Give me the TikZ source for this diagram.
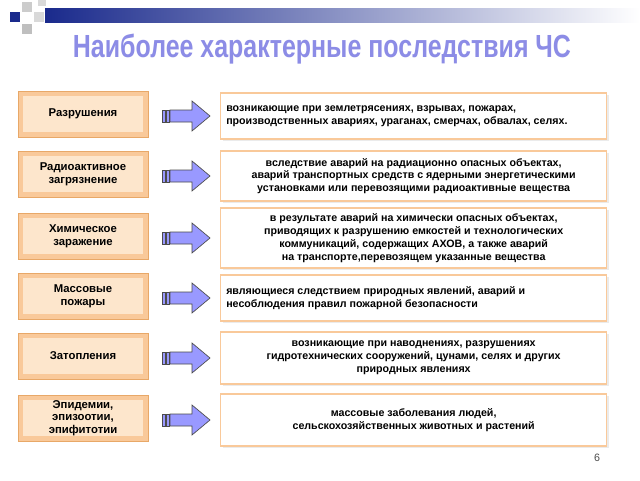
\documentclass[tikz,border=0pt]{standalone}
\usepackage{fontspec}
\setmainfont{Liberation Sans}
\usetikzlibrary{positioning, shadows}
\definecolor{peach}{HTML}{F9C99A}
\definecolor{peachlight}{HTML}{FDE6CC}
\definecolor{peachdark}{HTML}{E8A868}
\definecolor{arrowblue}{HTML}{9999FF}
\definecolor{titleblue}{HTML}{8C8CE6}
\definecolor{barblue}{HTML}{1A2A8C}

\begin{document}
\begin{tikzpicture}[x=0.75pt,y=-0.75pt]
    \tikzstyle{cause}=[draw=peachdark, fill=peach, minimum width=130*0.75pt, minimum height=46*0.75pt,
        inner sep=0pt, align=center, font=\fontsize{8.5}{9.5}\selectfont\bfseries]
    \tikzstyle{effect}=[draw=peach, line width=1pt, fill=white, anchor=west, inner sep=0pt,
        drop shadow={shadow xshift=1.5pt, shadow yshift=-1.5pt, fill=black!15}]
    \tikzstyle{effect text}=[font=\fontsize{8}{9.6}\selectfont\bfseries, inner sep=0pt]
    \tikzstyle{flow}=[draw=black!70, fill=arrowblue, line width=0.5pt]

    \useasboundingbox (0,0) rectangle (640,480);
    \fill[white] (0,0) rectangle (640,480);

    % top bar and squares
    \shade[left color=barblue, right color=white] (45,8) rectangle (640,22);
    \fill[barblue] (10,12) rectangle (20,22);
    \fill[black!20] (22,2) rectangle (32,12);
    \fill[black!15] (34,12) rectangle (44,22);
    \fill[black!25] (22,24) rectangle (32,34);
    \fill[black!15] (38,0) rectangle (46,6);

    % title
    \node[font=\fontsize{24}{26}\selectfont\bfseries, xscale=0.78, text=titleblue] (title) at (322,49) {Наиболее характерные последствия ЧС};

    \foreach \name/\y/\h/\cause/\effect/\ea/\xs in {
        dest/116/46/{Разрушения}/{возникающие при землетрясениях, взрывах, пожарах,\\производственных авариях, ураганах, смерчах, обвалах, селях.}/west/6,
        rad/176/50/{Радиоактивное\\загрязнение}/{вследствие аварий на радиационно опасных объектах,\\аварий транспортных средств с ядерными энергетическими\\установками или перевозящими радиоактивные вещества}/center/0,
        chem/238/60/{Химическое\\заражение}/{в результате аварий на химически опасных объектах,\\приводящих к разрушению емкостей и технологических\\коммуникаций, содержащих АХОВ, а также аварий\\на транспорте,перевозящем указанные вещества}/center/0,
        fire/298/46/{Массовые\\пожары}/{являющиеся следствием природных явлений, аварий и\\несоблюдения правил пожарной безопасности}/west/6,
        flood/358/52/{Затопления}/{возникающие при наводнениях, разрушениях\\гидротехнических сооружений, цунами, селях и других\\природных явлениях}/center/0,
        epid/420/52/{Эпидемии,\\эпизоотии,\\эпифитотии}/{массовые заболевания людей,\\сельскохозяйственных животных и растений}/center/0} {
        \node[cause] (C-\name) at (83,\y-2) {};
        \fill[peachlight] ([xshift=4pt,yshift=-4pt]C-\name.north west) rectangle ([xshift=-4pt,yshift=4pt]C-\name.south east);
        \node[font=\fontsize{8.5}{9.5}\selectfont\bfseries, align=center] at (C-\name) {\cause};
        \node[effect, minimum width=386*0.75pt, minimum height=\h*0.75pt] (E-\name) at (220,\y) {};
        \node[effect text, align=\ifnum\xs>0 left\else center\fi, anchor=\ea] (T-\name)
            at ([xshift=\xs*0.75pt]E-\name.\ea) {\effect};
        % arrow
        \draw[flow] (162,\y-6) rectangle (165,\y+6);
        \draw[flow] (166,\y-6) rectangle (169,\y+6);
        \draw[flow] (170,\y-6) -- (192,\y-6) -- (192,\y-15) -- (210,\y) -- (192,\y+15)
            -- (192,\y+6) -- (170,\y+6) -- cycle;
    }

    \node[font=\fontsize{8}{9}\selectfont, text=black!70] (page) at (597,458) {6};
\end{tikzpicture}
\end{document}
